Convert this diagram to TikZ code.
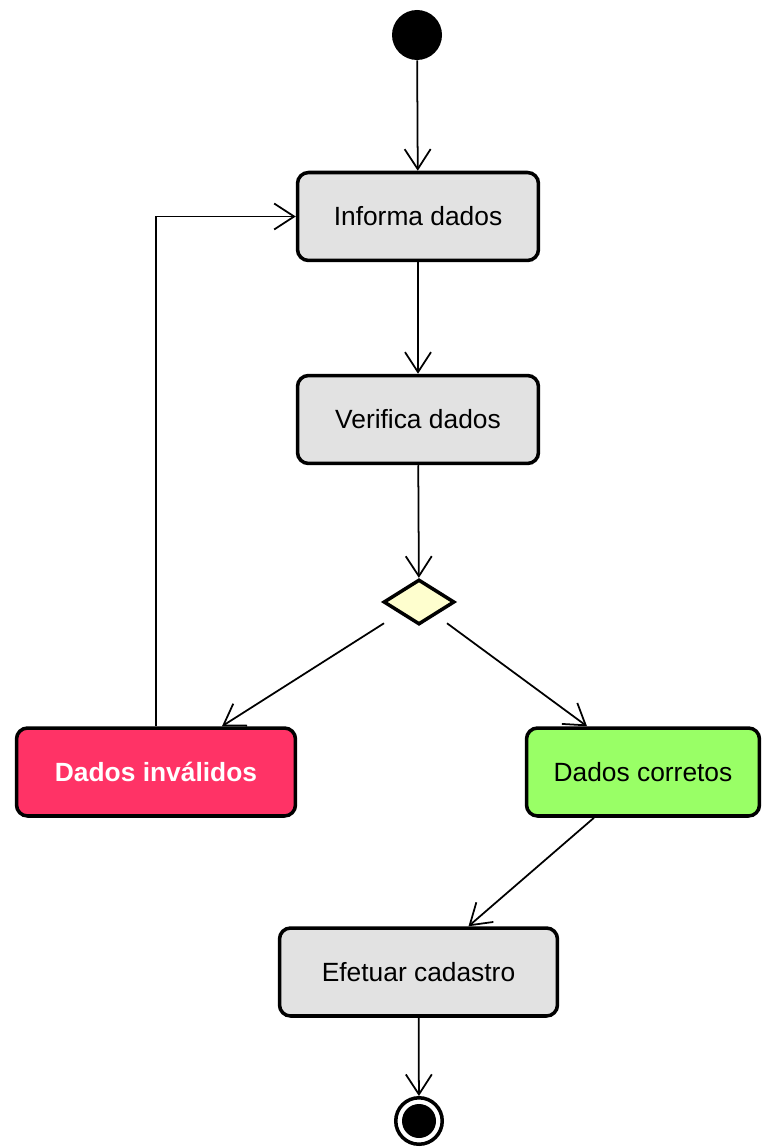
\documentclass[tikz,border=0pt]{standalone}
\usepackage{fontspec}
\setmainfont{Liberation Sans}
\usetikzlibrary{arrows.meta,shapes.geometric}

\definecolor{boxgray}{HTML}{E2E2E2}
\definecolor{invalidred}{HTML}{FF3366}
\definecolor{correctgreen}{HTML}{99FF66}
\definecolor{diamondyellow}{HTML}{FEFECE}

\begin{document}
\begin{tikzpicture}[x=0.02cm,y=-0.02cm,
	act/.style={draw, line width=2pt, rounded corners=0.22cm, fill=boxgray,
		minimum height=1.76cm, font=\fontsize{15}{18}\selectfont},
	flow/.style={line width=1pt, -{Straight Barb[length=0.4cm,width=0.52cm]}}]
		
		\useasboundingbox (0,0) rectangle (762,1148);
		
		% start
		\node[circle, fill=black, minimum size=1cm, inner sep=0pt] (inicio) at (417,35) {};
		
		% activities
		\node[act, minimum width=4.82cm] (informa) at (418,216.5) {Informa dados};
		\node[act, minimum width=4.82cm] (verifica) at (418,419.5) {Verifica dados};
		
		% decision
		\node[diamond, draw, line width=2pt, fill=diamondyellow, inner sep=0pt,
			minimum width=1.42cm, minimum height=0.9cm] (decisao) at (419,602) {};
		
		% results
		\node[act, minimum width=5.58cm, fill=invalidred, text=white, font=\fontsize{15}{18}\selectfont\bfseries] (invalidos) at (156,772) {Dados inválidos};
		\node[act, minimum width=4.66cm, fill=correctgreen] (corretos) at (643,772) {Dados corretos};
		\node[act, minimum width=5.56cm] (efetuar) at (418.5,972) {Efetuar cadastro};
		
		% end
		\node[circle, draw, line width=2pt, fill=white, minimum size=0.93cm, inner sep=0pt] (fim) at (419,1121) {};
		\fill (fim) circle (0.34cm);
		
		% flows
		\draw[flow] (inicio) -- (informa);
		\draw[flow] (informa) -- (verifica);
		\draw[flow] (verifica) -- (decisao);
		\draw[flow] ([shift={(-35,-3)}]decisao.south) -- ([shift={(66,0)}]invalidos.north);
		\draw[flow] ([shift={(28,-3)}]decisao.south) -- ([shift={(-56,0)}]corretos.north);
		\draw[flow] ([shift={(-49,0)}]corretos.south) -- ([shift={(50,0)}]efetuar.north);
		\draw[flow] (efetuar) -- (fim);
		\draw[flow] (invalidos.north) |- (informa.west);
		
	\end{tikzpicture}
\end{document}
